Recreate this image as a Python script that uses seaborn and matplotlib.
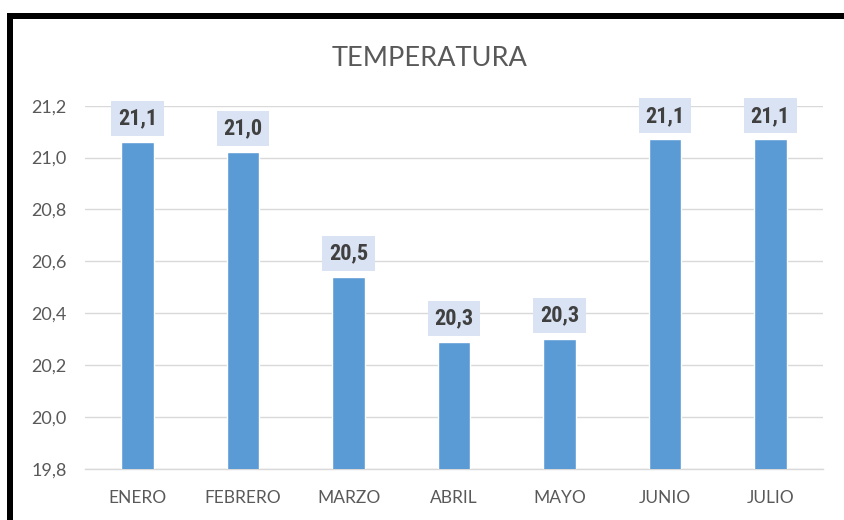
import matplotlib
matplotlib.use("Agg")
import matplotlib.pyplot as plt
import seaborn as sns
import pandas as pd
from matplotlib.patches import Rectangle

meses = ["ENERO", "FEBRERO", "MARZO", "ABRIL", "MAYO", "JUNIO", "JULIO"]
temperatura = [21.06, 21.02, 20.54, 20.29, 20.30, 21.07, 21.07]
yticks = [19.8, 20.0, 20.2, 20.4, 20.6, 20.8, 21.0, 21.2]

df = pd.DataFrame({"mes": meses, "temp": temperatura})

sns.set_theme(style="white")
plt.rcParams['font.family'] = ['Lato', 'DejaVu Sans']

fig = plt.figure(figsize=(8.44, 5.20), dpi=100)
ax = fig.add_axes([85/844, 1-469/520, (823-85)/844, (469-105.7)/520])

sns.barplot(data=df, x="mes", y="temp", color="#5B9BD5", width=0.31,
            saturation=1, ax=ax, zorder=3)

ax.set_ylim(19.8, 21.2)
ax.set_yticks(yticks)
ax.set_yticklabels([f"{v:.1f}".replace(".", ",") for v in yticks])
ax.grid(axis="y", color="#d9d9d9", linewidth=1, zorder=0)
ax.grid(axis="x", visible=False)
for s in ["top", "right", "left"]:
    ax.spines[s].set_visible(False)
ax.spines["bottom"].set_color("#d9d9d9")
ax.spines["bottom"].set_linewidth(1)
ax.spines["bottom"].set_zorder(1)
ax.tick_params(axis="y", length=0, pad=13, labelsize=13, labelcolor="#595959")
ax.tick_params(axis="x", length=0, pad=15, labelsize=12.5, labelcolor="#595959")
ax.set_xlabel("")
ax.set_ylabel("")
ax.set_xlim(-0.5, len(meses) - 0.5)

label_family = ['Liberation Sans Narrow', 'DejaVu Sans Condensed', 'Roboto Condensed',
                'Roboto', 'DejaVu Sans']
for i, v in enumerate(temperatura):
    ax.annotate(f"{v:.1f}".replace(".", ","), xy=(i, v), xytext=(0, 17),
                textcoords="offset points", ha="center", va="center",
                fontsize=16, fontweight="bold", color="#404040",
                family=label_family, fontstretch="condensed",
                bbox=dict(boxstyle="square,pad=0.3", fc="#dae3f3", ec="none"),
                zorder=5, annotation_clip=False)

fig.text(430/844, 1-58/520, "TEMPERATURA", ha="center", va="center",
         fontsize=19.5, color="#595959")

# black frame (top and left)
fig.patches.append(Rectangle((7/844, 0), 6/844, 1-13/520, transform=fig.transFigure,
                             fc="black", ec="none", zorder=10))
fig.patches.append(Rectangle((7/844, 1-19/520), 1, 6/520, transform=fig.transFigure,
                             fc="black", ec="none", zorder=10))

fig.savefig("out.png", dpi=100)
